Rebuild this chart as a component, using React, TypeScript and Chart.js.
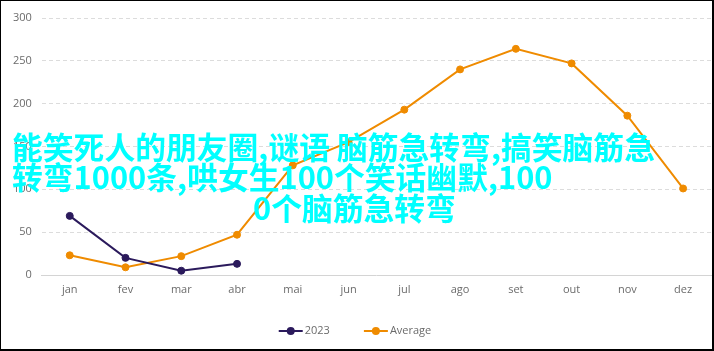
import React, { useEffect, useRef } from "react";
import { Chart, registerables } from "chart.js";

Chart.register(...registerables);

const months = ["jan", "fev", "mar", "abr", "mai", "jun", "jul", "ago", "set", "out", "nov", "dez"];
const series2023 = [69, 20, 5, 13];
const seriesAverage = [23, 9, 22, 47, 128, 155, 193, 240, 264, 247, 186, 101];
const yMin = 0;
const yMax = 300;
const yStep = 50;
const seriesNames = ["2023", "Average"];
const seriesColors = ["#2b1a5c", "#ef8b00"];
const overlayLines = [
  "能笑死人的朋友圈,谜语 脑筋急转弯,搞笑脑筋急",
  "转弯1000条,哄女生100个笑话幽默,100",
  "0个脑筋急转弯",
];

const FONT = "'Open Sans', sans-serif";

const lineLegend = {
  id: "lineLegend",
  afterDraw(chart: any) {
    const ctx = chart.ctx as CanvasRenderingContext2D;
    const datasets = chart.data.datasets;
    ctx.save();
    ctx.font = `11px ${FONT}`;
    const iconW = 24;
    const gapText = 2;
    const gapItems = 34;
    const widths = datasets.map((d: any) => iconW + gapText + ctx.measureText(d.label).width);
    const total = widths.reduce((a: number, b: number) => a + b, 0) + gapItems * (datasets.length - 1);
    let x = 354 - total / 2;
    const y = 330;
    datasets.forEach((d: any, i: number) => {
      const color = d.borderColor;
      ctx.strokeStyle = color;
      ctx.fillStyle = color;
      ctx.lineWidth = 2;
      ctx.beginPath();
      ctx.moveTo(x, y);
      ctx.lineTo(x + iconW, y);
      ctx.stroke();
      ctx.beginPath();
      ctx.arc(x + iconW / 2, y, 4, 0, Math.PI * 2);
      ctx.fill();
      ctx.fillStyle = "#6b6b6b";
      ctx.textBaseline = "middle";
      ctx.textAlign = "left";
      ctx.fillText(d.label, x + iconW + gapText, y);
      x += widths[i] + gapItems;
    });
    ctx.restore();
  },
};

export default function App() {
  const ref = useRef<HTMLCanvasElement>(null);

  useEffect(() => {
    if (!ref.current) return;
    const chart = new Chart(ref.current, {
      type: "line",
      data: {
        labels: months,
        datasets: [
          {
            label: seriesNames[0],
            data: series2023,
            borderColor: seriesColors[0],
            backgroundColor: seriesColors[0],
            borderWidth: 2,
            pointRadius: 3.5,
            pointBorderWidth: 1,
            pointBackgroundColor: seriesColors[0],
            tension: 0,
          },
          {
            label: seriesNames[1],
            data: seriesAverage,
            borderColor: seriesColors[1],
            backgroundColor: seriesColors[1],
            borderWidth: 2,
            pointRadius: 3.5,
            pointBorderWidth: 1,
            pointBackgroundColor: seriesColors[1],
            tension: 0,
          },
        ],
      },
      options: {
        responsive: false,
        animation: false,
        font: { family: FONT, size: 11 },
        color: "#666",
        layout: { padding: { left: 2, top: 17, right: 1, bottom: 0 } },
        scales: {
          x: {
            offset: true,
            grid: { display: false },
            border: { display: true, color: "#d4d4d4", width: 1 },
            ticks: {
              color: "#6b6b6b",
              padding: 0,
              maxRotation: 0,
              autoSkip: false,
              font: { family: FONT, size: 11 },
            },
            afterFit: (scale: any) => {
              scale.height = 74;
            },
          },
          y: {
            min: yMin,
            max: yMax,
            grid: { color: "#dcdcdc", drawTicks: false, lineWidth: 1, borderDash: [4, 3] },
            border: { display: false, dash: [4, 3] },
            ticks: {
              stepSize: yStep,
              padding: 10,
              color: "#6b6b6b",
              font: { family: FONT, size: 11 },
            },
          },
        },
        plugins: {
          legend: { display: false },
          tooltip: { enabled: false },
        },
      } as any,
      plugins: [lineLegend],
    });
    return () => chart.destroy();
  }, []);

  return (
    <div
      style={{
        position: "fixed",
        left: 0,
        top: 0,
        width: 714,
        height: 351,
        boxSizing: "border-box",
        borderTop: "1px solid #000",
        borderLeft: "1px solid #000",
        borderRight: "2px solid #000",
        borderBottom: "2px solid #000",
        background: "#fff",
        overflow: "hidden",
      }}
    >
      <canvas ref={ref} width={715} height={348} style={{ position: "absolute", left: 0, top: 0 }} />
      <div
        style={{
          position: "absolute",
          left: 11,
          top: 129.5,
          fontFamily: "'Noto Sans CJK SC', sans-serif",
          fontWeight: 700,
          fontSize: 30.8,
          lineHeight: "30.5px",
          color: "#00ffff",
          whiteSpace: "nowrap",
          pointerEvents: "none",
        }}
      >
        <div>{overlayLines[0]}</div>
        <div>{overlayLines[1]}</div>
        <div style={{ paddingLeft: 241 }}>{overlayLines[2]}</div>
      </div>
    </div>
  );
}
